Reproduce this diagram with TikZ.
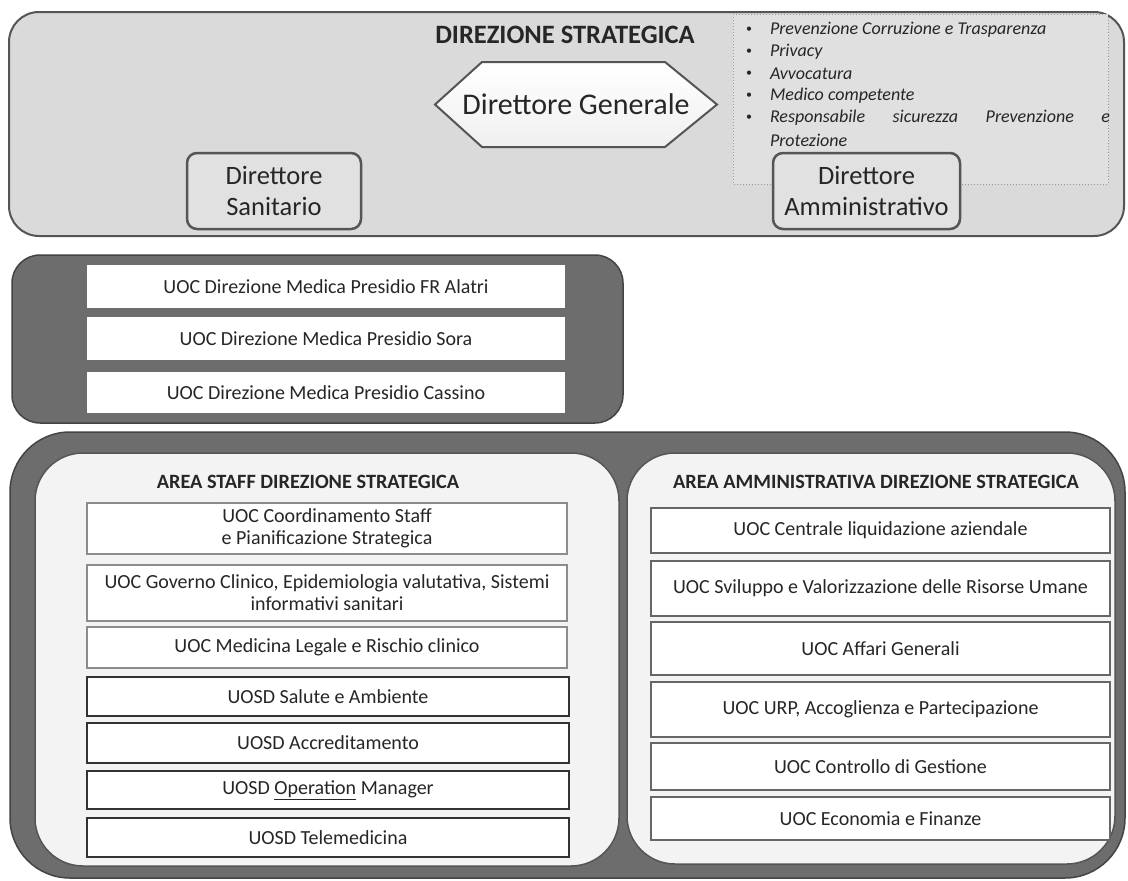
\documentclass[tikz,border=0pt]{standalone}
\usepackage{fontspec}
\setmainfont{Carlito}
\definecolor{lightbg}{HTML}{DADADA}
\definecolor{darkbg}{HTML}{6D6D6D}
\definecolor{edge}{HTML}{555555}
\definecolor{innerbg}{HTML}{F3F3F3}
\definecolor{txt}{HTML}{262626}
\definecolor{itemedge}{HTML}{8C8C8C}
\begin{document}
\begin{tikzpicture}[x=1pt,y=-1pt,
  every node/.style={inner sep=0pt, outer sep=0pt, text=txt, align=center},
  f20/.style={font=\fontsize{20}{22}\selectfont},
  topbox/.style={draw=edge, line width=2pt, fill=lightbg, rounded corners=30pt},
  darkbox/.style={draw=edge!80!black, line width=1.5pt, fill=darkbg},
  innerbox/.style={draw=edge, line width=1.5pt, fill=innerbg, rounded corners=48pt},
  dirbox/.style={draw=edge, line width=2.5pt, fill=lightbg!80!white, rounded corners=10pt, font=\fontsize{26.5}{31}\selectfont},
  uocbox/.style={draw=itemedge, line width=2pt, fill=white, f20},
  uosdbox/.style={draw=black!80, line width=2.5pt, fill=white, f20},
  midbox/.style={fill=white, f20},
  areatitle/.style={font=\bfseries\fontsize{20.3}{23}\selectfont},
  bul/.style={anchor=west, font=\itshape\fontsize{18}{20}\selectfont},
  dot/.style={font=\fontsize{12}{14}\selectfont}
]
\useasboundingbox (0,0) rectangle (1128,881);
\fill[white] (0,0) rectangle (1128,881);

% ---------- Direzione strategica ----------
\node[topbox, minimum width=1115pt, minimum height=224pt] (top) at (566.5,124) {};
\draw[black!40, dotted, line width=1pt, fill=lightbg!85!white] (733,14) rectangle (1108,184);
\node[font=\bfseries\fontsize{26.5}{30}\selectfont] (ds) at (565,35) {DIREZIONE STRATEGICA};

\draw[draw=edge, line width=2pt, top color=white, bottom color=black!6]
  (435,104.5) -- (482,62) -- (665,62) -- (717,104.5) -- (665,147) -- (482,147) -- cycle;
\node (dg) at (576,104.5) {\fontsize{30}{34}\selectfont Direttore Generale};

\node[dirbox, minimum width=174pt, minimum height=76pt] (dsan) at (274,191) {Direttore\\Sanitario};
\node[dirbox, minimum width=187pt, minimum height=76pt] (damm) at (866.5,191) {Direttore\\Amministrativo};

\node[dot] (d1) at (749,30) {\textbullet};
\node[bul] (b1) at (770,30) {Prevenzione Corruzione e Trasparenza};
\node[dot] (d2) at (749,52) {\textbullet};
\node[bul] (b2) at (770,52) {Privacy};
\node[dot] (d3) at (749,74) {\textbullet};
\node[bul] (b3) at (770,74) {Avvocatura};
\node[dot] (d4) at (749,96) {\textbullet};
\node[bul] (b4) at (770,96) {Medico competente};
\node[dot] (d5) at (749,118) {\textbullet};
\node[bul] (b5) at (770,118) {\makebox[340pt][s]{Responsabile sicurezza Prevenzione e}};
\node[bul] (b6) at (770,140) {Protezione};

% ---------- Direzioni mediche ----------
\node[darkbox, rounded corners=28pt, minimum width=611pt, minimum height=168pt] (mid) at (317.5,339) {};
\node[midbox, minimum width=478pt, minimum height=43pt] (m1) at (326,286.5) {UOC Direzione Medica Presidio FR Alatri};
\node[midbox, minimum width=478pt, minimum height=43pt] (m2) at (326,338.5) {UOC Direzione Medica Presidio Sora};
\node[midbox, minimum width=478pt, minimum height=41pt] (m3) at (326,392.5) {UOC Direzione Medica Presidio Cassino};

% ---------- Aree ----------
\node[darkbox, rounded corners=60pt, minimum width=1115pt, minimum height=446pt] (bot) at (567.5,655) {};
\node[innerbox, minimum width=584pt, minimum height=413pt] (left) at (327,659.5) {};
\node[innerbox, minimum width=488pt, minimum height=411pt] (right) at (871,658.5) {};

\node[areatitle] (lt) at (308,482) {AREA STAFF DIREZIONE STRATEGICA};
\node[areatitle] (rt) at (876,482) {AREA AMMINISTRATIVA DIREZIONE STRATEGICA};

\node[uocbox, minimum width=480pt, minimum height=51pt] (l1) at (327,528.5) {UOC Coordinamento Staff\\e Pianificazione Strategica};
\node[uocbox, minimum width=480pt, minimum height=56pt] (l2) at (327,593) {UOC Governo Clinico, Epidemiologia valutativa, Sistemi\\informativi sanitari};
\node[uocbox, minimum width=480pt, minimum height=41pt] (l3) at (327,647.5) {UOC Medicina Legale e Rischio clinico};
\node[uosdbox, minimum width=482pt, minimum height=39pt] (l4) at (328,696.5) {UOSD Salute e Ambiente};
\node[uosdbox, minimum width=482pt, minimum height=40pt] (l5) at (328,743) {UOSD Accreditamento};
\node[uosdbox, minimum width=482pt, minimum height=38pt] (l6) at (328,790) {UOSD \underline{Operation} Manager};
\node[uosdbox, minimum width=482pt, minimum height=39pt] (l7) at (328,837.5) {UOSD Telemedicina};

\node[uocbox, draw=edge!90, minimum width=459pt, minimum height=45pt] (r1) at (880.5,530.5) {UOC Centrale liquidazione aziendale};
\node[uocbox, draw=edge!90, minimum width=459pt, minimum height=55pt] (r2) at (880.5,588.5) {UOC Sviluppo e Valorizzazione delle Risorse Umane};
\node[uocbox, draw=edge!90, minimum width=459pt, minimum height=53pt] (r3) at (880.5,648.5) {UOC Affari Generali};
\node[uocbox, draw=edge!90, minimum width=459pt, minimum height=55pt] (r4) at (880.5,709.5) {UOC URP, Accoglienza e Partecipazione};
\node[uocbox, draw=edge!90, minimum width=459pt, minimum height=47pt] (r5) at (880.5,766.5) {UOC Controllo di Gestione};
\node[uocbox, draw=edge!90, minimum width=459pt, minimum height=43pt] (r6) at (880.5,818.5) {UOC Economia e Finanze};
\end{tikzpicture}
\end{document}
